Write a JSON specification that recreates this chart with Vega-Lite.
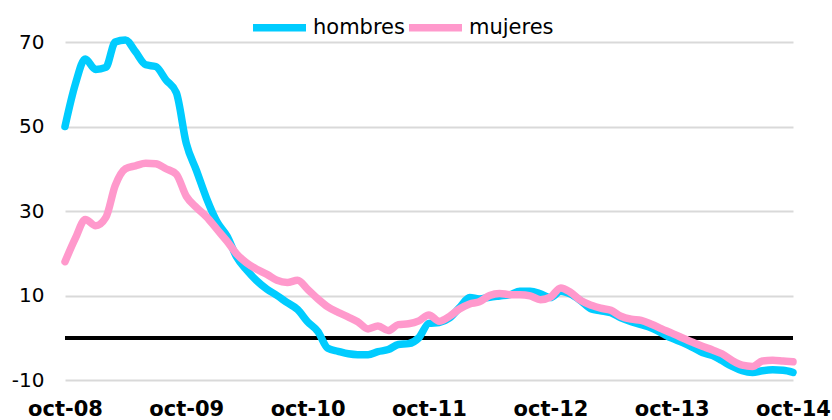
{
  "$schema": "https://vega.github.io/schema/vega-lite/v6.json",
  "width": 728,
  "height": 338,
  "autosize": "none",
  "padding": {"left": 65, "top": 42, "right": 39, "bottom": 40},
  "config": {"view": {"stroke": null}, "font": "DejaVu Sans"},
  "data": {"values": [
    {"fecha": "2008-10-01", "hombres": 50, "mujeres": 18},
    {"fecha": "2008-11-01", "hombres": 60, "mujeres": 23.5},
    {"fecha": "2008-12-01", "hombres": 66, "mujeres": 28},
    {"fecha": "2009-01-01", "hombres": 63.5, "mujeres": 26.5},
    {"fecha": "2009-02-01", "hombres": 64, "mujeres": 28.5},
    {"fecha": "2009-03-01", "hombres": 70, "mujeres": 36},
    {"fecha": "2009-04-01", "hombres": 70.5, "mujeres": 40},
    {"fecha": "2009-05-01", "hombres": 67.7, "mujeres": 40.7},
    {"fecha": "2009-06-01", "hombres": 64.6, "mujeres": 41.3},
    {"fecha": "2009-07-01", "hombres": 64.2, "mujeres": 41.2},
    {"fecha": "2009-08-01", "hombres": 61, "mujeres": 40},
    {"fecha": "2009-09-01", "hombres": 58, "mujeres": 38.7},
    {"fecha": "2009-10-01", "hombres": 46, "mujeres": 33.5},
    {"fecha": "2009-11-01", "hombres": 39.5, "mujeres": 30.8},
    {"fecha": "2009-12-01", "hombres": 33, "mujeres": 28.6},
    {"fecha": "2010-01-01", "hombres": 27.5, "mujeres": 25.7},
    {"fecha": "2010-02-01", "hombres": 24, "mujeres": 22.8},
    {"fecha": "2010-03-01", "hombres": 19.2, "mujeres": 19.9},
    {"fecha": "2010-04-01", "hombres": 16, "mujeres": 17.7},
    {"fecha": "2010-05-01", "hombres": 13.5, "mujeres": 16.2},
    {"fecha": "2010-06-01", "hombres": 11.5, "mujeres": 15},
    {"fecha": "2010-07-01", "hombres": 10, "mujeres": 13.6},
    {"fecha": "2010-08-01", "hombres": 8.3, "mujeres": 13.1},
    {"fecha": "2010-09-01", "hombres": 6.7, "mujeres": 13.6},
    {"fecha": "2010-10-01", "hombres": 3.8, "mujeres": 11.5},
    {"fecha": "2010-11-01", "hombres": 1.5, "mujeres": 9.2},
    {"fecha": "2010-12-01", "hombres": -2.5, "mujeres": 7.3},
    {"fecha": "2011-01-01", "hombres": -3.2, "mujeres": 6},
    {"fecha": "2011-02-01", "hombres": -3.8, "mujeres": 4.9},
    {"fecha": "2011-03-01", "hombres": -4, "mujeres": 3.8},
    {"fecha": "2011-04-01", "hombres": -4, "mujeres": 2.1},
    {"fecha": "2011-05-01", "hombres": -3.3, "mujeres": 2.8},
    {"fecha": "2011-06-01", "hombres": -2.8, "mujeres": 1.7},
    {"fecha": "2011-07-01", "hombres": -1.6, "mujeres": 3.1},
    {"fecha": "2011-08-01", "hombres": -1.4, "mujeres": 3.3},
    {"fecha": "2011-09-01", "hombres": 0, "mujeres": 4},
    {"fecha": "2011-10-01", "hombres": 3.4, "mujeres": 5.4},
    {"fecha": "2011-11-01", "hombres": 3.6, "mujeres": 3.9},
    {"fecha": "2011-12-01", "hombres": 4.6, "mujeres": 5},
    {"fecha": "2012-01-01", "hombres": 7.1, "mujeres": 6.8},
    {"fecha": "2012-02-01", "hombres": 9.5, "mujeres": 8},
    {"fecha": "2012-03-01", "hombres": 9.2, "mujeres": 8.5},
    {"fecha": "2012-04-01", "hombres": 9.6, "mujeres": 10},
    {"fecha": "2012-05-01", "hombres": 9.9, "mujeres": 10.5},
    {"fecha": "2012-06-01", "hombres": 10.2, "mujeres": 10.2},
    {"fecha": "2012-07-01", "hombres": 11, "mujeres": 10.2},
    {"fecha": "2012-08-01", "hombres": 11, "mujeres": 9.9},
    {"fecha": "2012-09-01", "hombres": 10.4, "mujeres": 9},
    {"fecha": "2012-10-01", "hombres": 9.5, "mujeres": 9.6},
    {"fecha": "2012-11-01", "hombres": 11, "mujeres": 11.8},
    {"fecha": "2012-12-01", "hombres": 10.3, "mujeres": 10.7},
    {"fecha": "2013-01-01", "hombres": 8.7, "mujeres": 8.8},
    {"fecha": "2013-02-01", "hombres": 6.8, "mujeres": 7.7},
    {"fecha": "2013-03-01", "hombres": 6.4, "mujeres": 7},
    {"fecha": "2013-04-01", "hombres": 5.9, "mujeres": 6.5},
    {"fecha": "2013-05-01", "hombres": 4.7, "mujeres": 5.1},
    {"fecha": "2013-06-01", "hombres": 3.8, "mujeres": 4.4},
    {"fecha": "2013-07-01", "hombres": 3.1, "mujeres": 4.1},
    {"fecha": "2013-08-01", "hombres": 2.3, "mujeres": 3.2},
    {"fecha": "2013-09-01", "hombres": 1.1, "mujeres": 2.1},
    {"fecha": "2013-10-01", "hombres": -0.1, "mujeres": 1.1},
    {"fecha": "2013-11-01", "hombres": -1.1, "mujeres": 0},
    {"fecha": "2013-12-01", "hombres": -2.2, "mujeres": -1},
    {"fecha": "2014-01-01", "hombres": -3.5, "mujeres": -2},
    {"fecha": "2014-02-01", "hombres": -4.2, "mujeres": -2.9},
    {"fecha": "2014-03-01", "hombres": -5.4, "mujeres": -3.8},
    {"fecha": "2014-04-01", "hombres": -6.8, "mujeres": -5.4},
    {"fecha": "2014-05-01", "hombres": -7.8, "mujeres": -6.5},
    {"fecha": "2014-06-01", "hombres": -8.2, "mujeres": -6.8},
    {"fecha": "2014-07-01", "hombres": -7.8, "mujeres": -5.5},
    {"fecha": "2014-08-01", "hombres": -7.6, "mujeres": -5.3},
    {"fecha": "2014-09-01", "hombres": -7.7, "mujeres": -5.5},
    {"fecha": "2014-10-01", "hombres": -8.2, "mujeres": -5.7}
  ]},
  "layer": [
    {
      "mark": {"type": "rule", "color": "black", "strokeWidth": 3},
      "encoding": {"y": {"datum": 0, "type": "quantitative"}}
    },
    {
      "transform": [{"fold": ["hombres", "mujeres"], "as": ["serie", "valor"]}],
      "mark": {"type": "line", "strokeWidth": 7.5, "interpolate": "monotone", "clip": false, "strokeCap": "round", "strokeJoin": "round"},
      "encoding": {
        "x": {
          "field": "fecha", "type": "temporal",
          "scale": {"type": "utc", "domain": [{"year": 2008, "month": 10, "date": 1, "utc": true}, {"year": 2014, "month": 10, "date": 1, "utc": true}]},
          "axis": {
            "values": [
              {"year": 2008, "month": 10, "date": 1, "utc": true},
              {"year": 2009, "month": 10, "date": 1, "utc": true},
              {"year": 2010, "month": 10, "date": 1, "utc": true},
              {"year": 2011, "month": 10, "date": 1, "utc": true},
              {"year": 2012, "month": 10, "date": 1, "utc": true},
              {"year": 2013, "month": 10, "date": 1, "utc": true},
              {"year": 2014, "month": 10, "date": 1, "utc": true}
            ],
            "labelExpr": "lower(utcFormat(datum.value, '%b-%y'))",
            "labelFontWeight": "bold", "labelFontSize": 21, "labelColor": "black",
            "labelPadding": 18, "ticks": false, "domain": false, "grid": false,
            "labelFlush": false, "labelOverlap": false, "title": null
          }
        },
        "y": {
          "field": "valor", "type": "quantitative",
          "scale": {"domain": [-10, 70], "nice": false, "zero": false},
          "axis": {
            "values": [-10, 10, 30, 50, 70],
            "labelExpr": "'' + datum.value",
            "grid": true, "gridColor": "#d9d9d9", "gridWidth": 2,
            "domain": false, "ticks": false,
            "labelFontSize": 20, "labelColor": "black", "labelPadding": 21,
            "title": null
          }
        },
        "color": {
          "field": "serie", "type": "nominal",
          "scale": {"domain": ["hombres", "mujeres"], "range": ["#00CCFF", "#FF99CC"]},
          "legend": {
            "orient": "none", "legendX": 184, "legendY": -45,
            "direction": "horizontal", "title": null,
            "symbolType": "stroke", "symbolSize": 2809, "symbolStrokeWidth": 7.5,
            "labelFontSize": 21, "labelColor": "black", "labelOffset": 3,
            "columnPadding": -16
          }
        }
      }
    }
  ]
}
